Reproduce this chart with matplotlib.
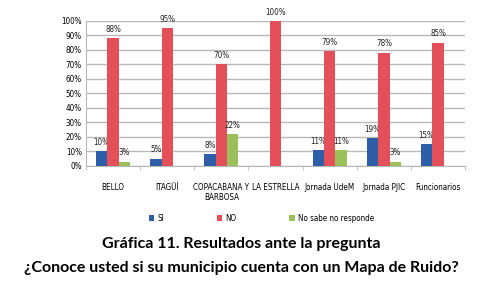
import numpy as np
import matplotlib.pyplot as plt

categories = ["BELLO", "ITAGÜÍ", "COPACABANA Y\nBARBOSA", "LA ESTRELLA",
              "Jornada UdeM", "Jornada PJIC", "Funcionarios"]
si = [10, 5, 8, 0, 11, 19, 15]
no = [88, 95, 70, 100, 79, 78, 85]
no_sabe = [3, 0, 22, 0, 11, 3, 0]
series_names = ["SI", "NO", "No sabe no responde"]
colors = ["#2F5EA8", "#E4505A", "#9BBF5A"]

small = dict(family="DejaVu Sans", stretch="condensed", size=5.8)

fig = plt.figure(figsize=(4.83, 2.91), dpi=100)
ax = fig.add_axes([0.178, 0.43, 0.785, 0.498])

x = np.arange(len(categories))
w = 0.21
for i, (vals, name, c) in enumerate(zip([si, no, no_sabe], series_names, colors)):
    pos = x + (i - 1) * w
    ax.bar(pos, vals, width=w, color=c, label=name, zorder=3)
    for p, v in zip(pos, vals):
        if v > 0:
            ax.text(p, v + 3, f"{v}%", ha="center", va="bottom",
                    color="#222222", **small)

ax.set_xlim(-0.5, len(categories) - 0.5)
ax.set_ylim(0, 100)
ax.set_yticks(range(0, 101, 10))
ax.set_yticklabels([f"{t}%" for t in range(0, 101, 10)], **small)
ax.yaxis.grid(True, color="#B8B8B8", linewidth=1, zorder=0)
ax.tick_params(axis="y", length=0, pad=3)

ax.set_xticks(x)
ax.set_xticklabels(categories, va="top", **small)
ax.set_xticks(np.arange(-0.5, len(categories), 1), minor=True)
ax.tick_params(axis="x", which="major", length=0, pad=12)
ax.tick_params(axis="x", which="minor", length=3, color="#B8B8B8")

for s in ["top", "right"]:
    ax.spines[s].set_visible(False)
ax.spines["left"].set_color("#B8B8B8")
ax.spines["bottom"].set_color("#B8B8B8")

fig.legend(loc="center", bbox_to_anchor=(0.541, 0.25), ncol=3, frameon=False,
           handlelength=0.7, handleheight=0.7, columnspacing=6.5,
           handletextpad=0.4, prop=small)

fig.text(0.5, 0.163, "Gráfica 11. Resultados ante la pregunta", ha="center",
         va="center", fontsize=11.5, fontweight="bold", family="Lato")
fig.text(0.5, 0.08, "¿Conoce usted si su municipio cuenta con un Mapa de Ruido?",
         ha="center", va="center", fontsize=11.5, fontweight="bold", family="Lato")

fig.savefig("out.png", dpi=100)
